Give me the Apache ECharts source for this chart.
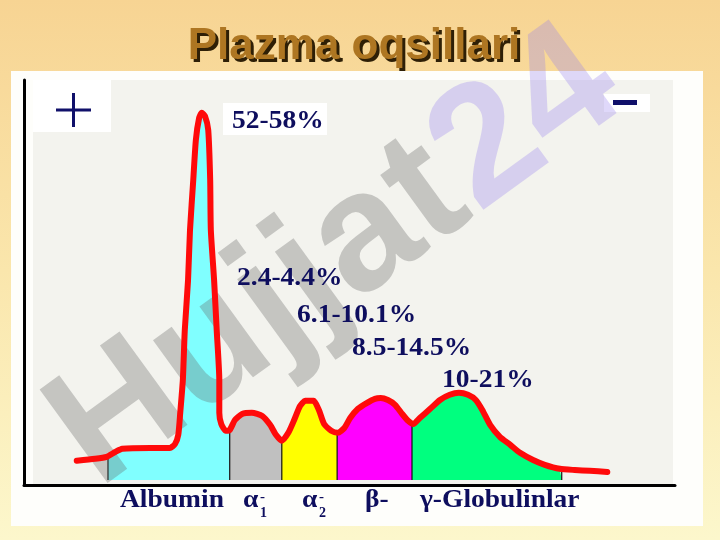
<!DOCTYPE html>
<html><head><meta charset="utf-8">
<script src="https://cdn.jsdelivr.net/npm/echarts@6/dist/echarts.min.js"></script>
<style>html,body{margin:0;padding:0;background:#fff}#c{width:720px;height:540px}</style>
</head><body><div id="c"></div>
<script>
// Densitogram profile: [migration distance (0-100), relative density]
const profile = [
  [8.1,4.8],[10.9,5.3],[12.7,5.8],[14.0,7.0],[15.1,7.8],[19.4,8.0],[22.4,8.0],[23.2,9.0],[23.7,11.3],
  [24.0,16.8],[24.4,25.0],[24.7,37.5],[25.2,50.0],[25.5,62.5],[26.0,75.0],[26.4,85.0],[26.9,90.5],
  [27.3,91.8],[27.8,91.0],[28.3,87.5],[28.6,75.0],[28.7,62.5],[29.2,50.0],[29.6,37.5],[30.0,25.0],
  [30.0,16.8],[30.3,14.0],[31.0,12.3],[31.6,12.5],[32.4,15.0],[33.5,16.5],[35.0,16.8],[36.6,16.0],
  [37.8,13.8],[38.7,11.3],[39.6,9.8],[40.6,11.8],[41.5,15.0],[42.4,18.5],[43.2,19.8],[44.5,19.8],
  [45.3,17.5],[46.1,14.0],[47.2,12.3],[48.2,11.8],[49.2,13.0],[50.1,15.5],[51.3,17.8],[52.7,19.3],
  [53.9,20.3],[54.8,20.5],[55.9,20.0],[57.0,18.8],[58.1,16.5],[59.0,14.8],[59.8,14.0],[60.8,15.5],
  [62.4,17.8],[63.9,20.0],[65.4,21.3],[66.8,21.8],[68.2,21.3],[69.4,20.0],[70.4,17.5],[71.6,13.8],
  [73.1,10.8],[74.7,8.8],[76.2,6.8],[78.2,5.0],[80.0,3.8],[82.3,2.8],[84.6,2.5],[86.9,2.3],[89.6,2.0]
];
// fraction boundaries on the migration axis
const boundaries = [12.9, 31.6, 39.6, 48.1, 59.6, 82.6];
const fractionNames = ['Albumin', 'α', 'α', 'β-', 'γ-Globulinlar'];
const fractionSubs = ['', '1', '2', '', ''];
const percentRanges = ['52-58%', '2.4-4.4%', '6.1-10.1%', '8.5-14.5%', '10-21%'];
const titleText = 'Plazma oqsillari';

const fillColors = ['#80FFFF', '#C0C0C0', '#FFFF00', '#FF00FF', '#00FF7F'];
const navy = '#0E0E5E';

function densityAt(b) {
  for (let i = 0; i < profile.length - 1; i++) {
    const a = profile[i], c = profile[i + 1];
    if (a[0] <= b && b <= c[0]) {
      if (c[0] === a[0]) return a[1];
      return a[1] + (c[1] - a[1]) * (b - a[0]) / (c[0] - a[0]);
    }
  }
  return 0;
}

const series = [];
for (let k = 0; k < boundaries.length - 1; k++) {
  const b0 = boundaries[k], b1 = boundaries[k + 1];
  const data = [[b0, 0], [b0, densityAt(b0)]]
    .concat(profile.filter(p => p[0] > b0 && p[0] < b1))
    .concat([[b1, densityAt(b1)], [b1, 0]]);
  series.push({
    type: 'line', data, showSymbol: false, silent: true, z: 1,
    lineStyle: { width: 0 }, areaStyle: { color: fillColors[k], opacity: 1 }
  });
}
boundaries.forEach(b => {
  series.push({
    type: 'line', data: [[b, 0], [b, densityAt(b)]], showSymbol: false, silent: true, z: 2,
    lineStyle: { color: '#111', width: 1.2 }
  });
});
series.push({
  type: 'line', data: profile, showSymbol: false, silent: true, z: 6, smooth: 0.2,
  lineStyle: { color: '#FF0A0A', width: 6, cap: 'round', join: 'round' }
});

const serifBold = { fontFamily: 'Liberation Serif', fontWeight: 'bold' };
const g = [];
// slide background
g.push({ type: 'rect', z: -20, shape: { x: 0, y: 0, width: 720, height: 540 },
  style: { fill: new echarts.graphic.LinearGradient(0, 0, 0, 1, [
    { offset: 0, color: '#F7D493' }, { offset: 0.5, color: '#FAE6AC' }, { offset: 1, color: '#FCF7CC' }]) } });
g.push({ type: 'rect', z: -19, shape: { x: 11, y: 71, width: 692, height: 455 }, style: { fill: '#FEFEFB' } });
g.push({ type: 'rect', z: -18, shape: { x: 33, y: 80, width: 640, height: 405 }, style: { fill: '#F3F3EE' } });
// white boxes behind labels
[[33, 80, 78, 52], [604, 94, 46, 18], [223, 103, 104, 32]].forEach(r => {
  g.push({ type: 'rect', z: -17, shape: { x: r[0], y: r[1], width: r[2], height: r[3] }, style: { fill: '#FFFFFF' } });
});
// title with drop shadow
const titleFont = { fontFamily: 'Liberation Sans', fontWeight: 'bold', fontSize: 44, align: 'center', verticalAlign: 'middle' };
g.push({ type: 'text', z: 19, x: 357, y: 50, style: Object.assign({ text: titleText, fill: '#2E1F06' }, titleFont) });
g.push({ type: 'text', z: 20, x: 354, y: 47, style: Object.assign({ text: titleText, fill: '#AE7622' }, titleFont) });
// + and - electrodes
g.push({ type: 'line', z: 20, shape: { x1: 56, y1: 110, x2: 91, y2: 110 }, style: { stroke: '#10106A', lineWidth: 3 } });
g.push({ type: 'line', z: 20, shape: { x1: 73.5, y1: 93, x2: 73.5, y2: 127 }, style: { stroke: '#10106A', lineWidth: 3 } });
g.push({ type: 'rect', z: 20, shape: { x: 613, y: 100, width: 24, height: 5 }, style: { fill: '#10106A' } });
// watermark
g.push({ type: 'text', z: 4, x: 337, y: 259, rotation: 36 * Math.PI / 180, style: {
  text: '{a|Hujjat} {b|24}', align: 'center', verticalAlign: 'middle',
  rich: {
    a: { fontFamily: 'Liberation Sans', fontWeight: 'bold', fontSize: 168, fill: 'rgba(100,100,100,0.32)' },
    b: { fontFamily: 'Liberation Sans', fontWeight: 'bold', fontSize: 168, fill: 'rgba(150,125,240,0.30)' }
  } } });
// percentage labels
const pctPos = [[232, 122], [237, 279], [297, 316], [352, 349], [442, 381]];
percentRanges.forEach((t, i) => {
  g.push({ type: 'text', z: 30, x: pctPos[i][0], y: pctPos[i][1], scaleX: 1.1, style: Object.assign({
    text: t, fontSize: 25, fill: navy, align: 'left', verticalAlign: 'middle' }, serifBold) });
});
// fraction names under the axis
const namePos = [120, 243, 302, 365, 420];
fractionNames.forEach((t, i) => {
  g.push({ type: 'text', z: 30, x: namePos[i], y: 501, scaleX: 1.1, style: Object.assign({
    text: t, fontSize: 25, fill: navy, align: 'left', verticalAlign: 'middle' }, serifBold) });
  if (fractionSubs[i]) {
    g.push({ type: 'text', z: 30, x: namePos[i] + 17, y: 497, style: Object.assign({
      text: '-', fontSize: 15, fill: navy, align: 'left', verticalAlign: 'middle' }, serifBold) });
    g.push({ type: 'text', z: 30, x: namePos[i] + 17, y: 513, style: Object.assign({
      text: fractionSubs[i], fontSize: 14, fill: navy, align: 'left', verticalAlign: 'middle' }, serifBold) });
  }
});

const chart = echarts.init(document.getElementById('c'), null, { renderer: 'canvas' });
chart.setOption({
  animation: false,
  grid: { left: 24, right: 45, top: 80, bottom: 55 },
  xAxis: { type: 'value', min: 0, max: 100,
    axisLine: { show: true, onZero: false, lineStyle: { color: '#000', width: 3 } },
    axisTick: { show: false }, axisLabel: { show: false }, splitLine: { show: false } },
  yAxis: { type: 'value', min: -1.25, max: 100,
    axisLine: { show: true, onZero: false, lineStyle: { color: '#000', width: 3 } },
    axisTick: { show: false }, axisLabel: { show: false }, splitLine: { show: false } },
  series,
  graphic: { elements: g }
});
</script></body></html>
